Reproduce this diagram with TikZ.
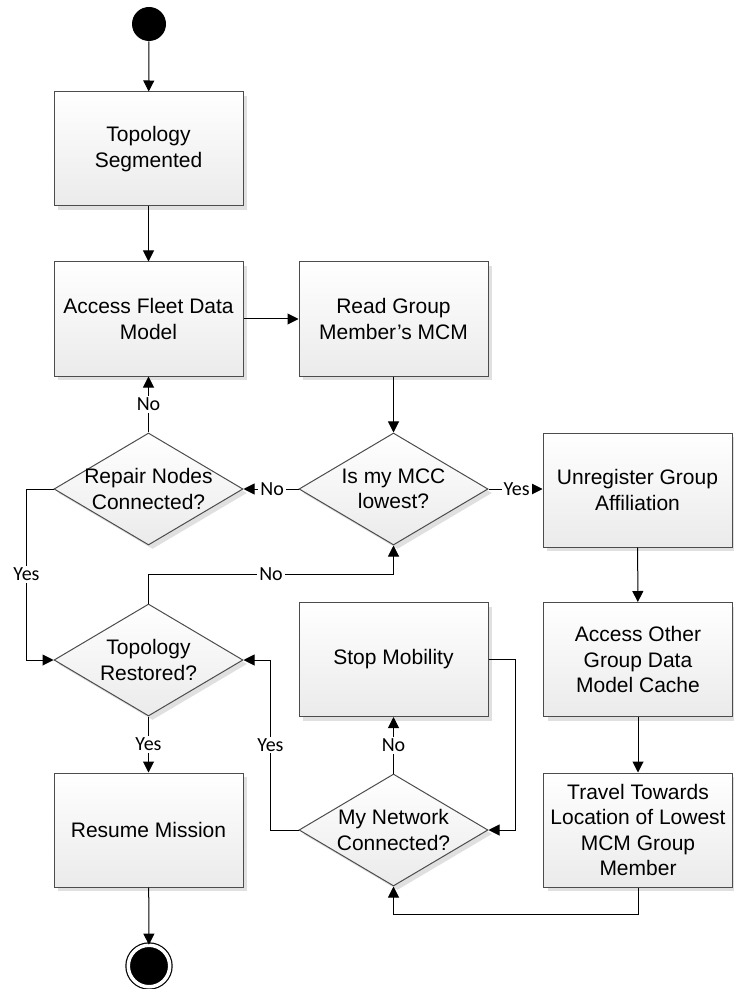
\documentclass[tikz,border=0pt]{standalone}
\usepackage{fontspec}
\setmainfont{Liberation Sans}
\newfontfamily\answerfont{Carlito}
\usetikzlibrary{shapes.geometric, arrows.meta, shadows}

\begin{document}
\begin{tikzpicture}[x=0.5pt, y=-0.5pt,
        box/.style={draw=black!70, line width=0.5pt, top color=white, bottom color=gray!16,
            minimum width=94.5pt, minimum height=57pt, align=center,
            font=\fontsize{10.5}{12.7}\selectfont,
            drop shadow={shadow xshift=2pt, shadow yshift=-2pt, fill=black!12, opacity=1}},
        decision/.style={diamond, draw=black!70, line width=0.5pt, top color=white, bottom color=gray!16,
            minimum width=94.5pt, minimum height=56pt, inner sep=0pt,
            drop shadow={shadow xshift=2pt, shadow yshift=-2pt, fill=black!12, opacity=1}},
        question/.style={align=center, font=\fontsize{10.5}{12.7}\selectfont},
        flow/.style={-{Triangle[length=5.5pt, width=5.5pt]}, line width=0.5pt},
        answer/.style={fill=white, inner sep=1pt, font=\answerfont\fontsize{10}{12}\selectfont}
    ]
        \useasboundingbox (0,0) rectangle (733,989);

        % Start and end states
        \node[circle, fill=black, minimum size=17pt, inner sep=0pt] (start) at (149,24) {};
        \node[circle, fill=black, draw=black, double=white, double distance=1.75pt,
            line width=0.6pt, minimum size=20.75pt, inner sep=0pt] (end) at (149,966) {};

        % Left column
        \node[box] (seg) at (148.5,149) {Topology\\Segmented};
        \node[box] (fleet) at (148.5,319) {Access Fleet Data\\Model};
        \node[decision, label={[question]center:{Repair Nodes\\Connected?}}] (repair) at (148.5,489) {};
        \node[decision, label={[question]center:{Topology\\Restored?}}] (restored) at (148.5,660) {};
        \node[box] (resume) at (148.5,830) {Resume Mission};

        % Middle column
        \node[box] (read) at (393.5,319) {Read Group\\Member’s MCM};
        \node[decision, label={[question]center:{Is my MCC\\lowest?}}] (mcc) at (393.5,489) {};
        \node[box] (stop) at (393.5,659.5) {Stop Mobility};
        \node[decision, label={[question]center:{My Network\\Connected?}}] (network) at (393.5,830) {};

        % Right column
        \node[box] (unreg) at (637.5,490) {Unregister Group\\Affiliation};
        \node[box] (other) at (638,659.5) {Access Other\\Group Data\\Model Cache};
        \node[box] (travel) at (638,830) {Travel Towards\\Location of Lowest\\MCM Group\\Member};

        % Main flow
        \draw[flow] (start) -- (seg);
        \draw[flow] (seg) -- (fleet);
        \draw[flow] (fleet) -- (read);
        \draw[flow] (read) -- (mcc);
        \draw[flow] (mcc.east) -- node[answer, pos=0.52] {Yes} (mcc.east -| unreg.west);
        \draw[flow] (mcc) -- node[answer, pos=0.48] {No} (repair);
        \draw[flow] (repair) -- node[answer] {No} (fleet);
        \draw[flow] (unreg) -- (other);
        \draw[flow] (other) -- (travel);

        % Loops back to the decisions
        \draw[flow] (repair.west) -- ++(-27,0) |- node[answer, pos=0.25] {Yes} (restored.west);
        \draw[flow] (restored.north) -- ++(0,-29) -| node[answer, pos=0.25] {No} (mcc.south);
        \draw[flow] (travel.south) -- ++(0,27) -| (network.south);
        \draw[flow] (network) -- node[answer] {No} (stop);
        \draw[flow] (stop.east) -- ++(27,0) |- (network.east);
        \draw[flow] (network.west) -- ++(-28,0) |- node[answer, pos=0.25] {Yes} (restored.east);

        % Finish
        \draw[flow] (restored) -- node[answer] {Yes} (resume);
        \draw[flow] (resume) -- (end);
    \end{tikzpicture}
\end{document}
